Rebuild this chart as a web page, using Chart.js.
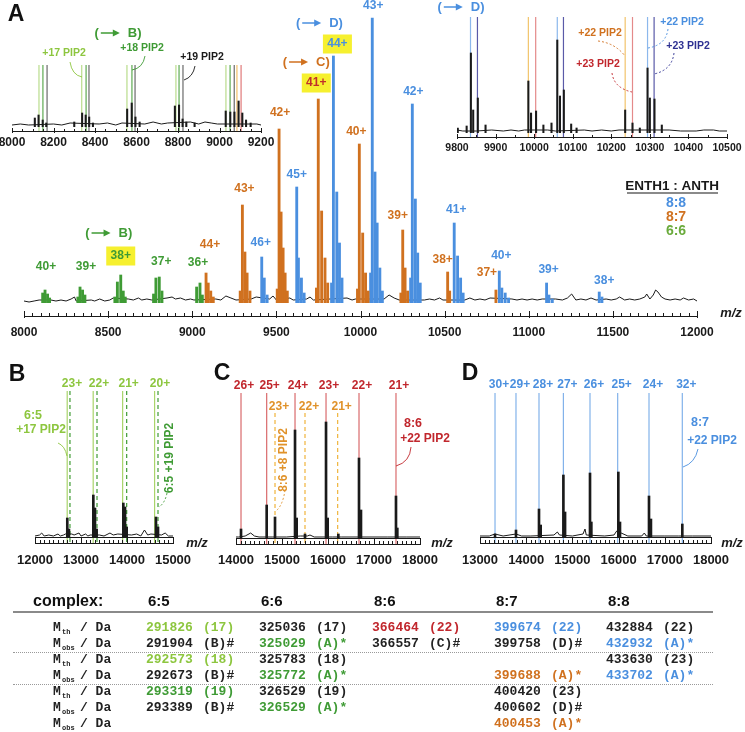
<!DOCTYPE html>
<html>
<head>
<meta charset="utf-8">
<script src="https://cdn.jsdelivr.net/npm/chart.js@4.4.1/dist/chart.umd.min.js"></script>
<style>
  body { margin: 0; background: #fff; }
  #wrap { position: relative; width: 745px; height: 732px; overflow: hidden; }
  #wrap canvas { position: absolute; left: 0; top: 0; }
  .t { position: absolute; white-space: pre; font: bold 13px "Liberation Mono", monospace; line-height: 16px; color: #222; }
  .h { position: absolute; white-space: pre; font: bold 16px "Liberation Sans", Arial, sans-serif; line-height: 20px; color: #111; }
</style>
</head>
<body>
<div id="wrap">
  <canvas id="cA" width="745" height="732"></canvas>
  <canvas id="cI1" width="745" height="732"></canvas>
  <canvas id="cI2" width="745" height="732"></canvas>
  <canvas id="cB" width="745" height="732"></canvas>
  <canvas id="cC" width="745" height="732"></canvas>
  <canvas id="cD" width="745" height="732"></canvas>
</div>
<script>
// ---------- data: panel A overview (m/z, intensity) ----------
const ticksA = [8000, 8500, 9000, 9500, 10000, 10500, 11000, 11500, 12000];
const noiseA = [[8000,2],[8030,1],[8060,2],[8090,3],[8160,3],[8190,2],[8220,3],[8250,2],[8280,4],[8300,6],[8310,2],
  [8400,3],[8420,2],[8450,4],[8480,2],[8510,3],[8530,5],[8620,4],[8650,3],[8680,5],[8700,3],[8730,4],[8760,3],
  [8850,5],[8880,6],[8900,4],[8930,5],[8960,3],[8990,4],[9010,3],[9140,4],[9170,3],[9200,7],[9230,5],[9260,3],
  [9350,4],[9380,6],[9460,4],[9480,7],[9500,3],[9580,5],[9600,3],[9680,4],[9700,6],[9720,3],[9820,4],[9920,5],
  [9950,3],[9970,4],[10140,4],[10170,8],[10200,5],[10230,3],[10380,3],[10410,4],[10440,3],[10470,5],[10490,3],
  [10620,3],[10650,5],[10680,3],[10710,4],[10740,3],[10770,5],[10900,4],[10930,3],[10960,4],[10990,3],[11020,4],
  [11050,3],[11080,4],[11160,4],[11200,3],[11230,5],[11255,9],[11280,3],[11310,4],[11340,3],[11370,5],[11400,3],
  [11460,4],[11490,3],[11520,4],[11540,6],[11570,3],[11600,4],[11630,3],[11660,4],[11690,6],[11701,9],[11720,4],
  [11740,8],[11754,13],[11768,11],[11789,6],[11810,4],[11840,3],[11870,4],[11900,3],[11920,5],[11950,3],[11980,4],[12000,2]];
const peaks66 = [[8111,10],[8125,13],[8140,9],[8152,5],[8320,6],[8333,16],[8348,13],[8362,8],
  [8540,6],[8555,21],[8575,28],[8590,12],[8602,6],[8770,9],[8784,25],[8804,26],[8820,12],[9026,16],[9046,20],[9060,8]];
const peaks87 = [[9082,30],[9095,20],[9110,12],[9125,6],[9285,12],[9298,98],[9313,51],[9326,30],[9343,12],
  [9505,14],[9516,174],[9528,91],[9540,55],[9552,30],[9565,12],[9738,15],[9749,204],[9769,92],[9789,45],[9805,20],
  [9982,14],[9993,159],[10013,70],[10030,30],[10045,12],[10240,10],[10251,73],[10265,35],[10280,12],
  [10518,31],[10530,12],[10805,13]];
const peaks88 = [[9413,46],[9428,25],[9445,8],[9621,116],[9631,45],[9649,25],[9665,10],
  [9828,20],[9839,247],[9859,111],[9875,60],[9890,25],[10060,30],[10070,285],[10086,131],[10099,80],[10115,35],[10130,12],
  [10298,25],[10308,199],[10326,104],[10340,50],[10355,20],[10557,80],[10577,47],[10595,25],[10610,10],
  [10825,32],[10840,15],[10860,10],[10880,5],[11106,20],[11120,8],[11140,4],[11419,11],[11435,6]];
const charges66 = ['40+', '39+', '38+', '37+', '36+'];
const apexMz66 = [8125, 8333, 8575, 8804, 9046];
const apexH66 = [13, 16, 28, 26, 20];
const charges87 = ['44+', '43+', '42+', '41+', '40+', '39+', '38+', '37+'];
const apexMz87 = [9082, 9298, 9516, 9749, 9993, 10251, 10518, 10805];
const apexH87 = [30, 98, 174, 204, 159, 73, 31, 13];
const charges88 = ['46+', '45+', '44+', '43+', '42+', '41+', '40+', '39+', '38+'];
const apexMz88 = [9413, 9621, 9839, 10070, 10308, 10557, 10825, 11106, 11419];
const apexH88 = [46, 116, 247, 285, 199, 80, 32, 20, 11];

// ---------- data: inset 8000-9200 ----------
const ticksI1 = [8000, 8200, 8400, 8600, 8800, 9000, 9200];
const noiseI1 = [[8000,2],[8040,3],[8080,2],[8200,3],[8240,2],[8280,4],[8420,3],[8460,4],[8500,2],[8530,4],
  [8640,3],[8680,5],[8720,3],[8750,4],[8860,5],[8900,3],[8930,5],[8960,4],[8990,3],[9180,3],[9200,2]];
const peaksI1 = [[8110,9],[8128,12],[8148,7],[8165,4],[8300,5],[8338,14],[8355,12],[8372,10],[8390,4],
  [8555,18],[8577,24],[8595,10],[8615,5],[8785,21],[8805,22],[8822,8],[8840,5],[8880,4],
  [9030,16],[9052,15],[9072,15],[9092,26],[9110,14],[9128,7],[9150,4]];
const pip17I1 = [8130, 8336, 8554, 8790, 9031];
const pip18I1 = [8149, 8357, 8578, 8805, 9051];
const pip19I1 = [8169, 8371, 8593, 8824, 9071];
const orangeI1 = [9084];
const redI1 = [9104];

// ---------- data: inset 9800-10500 ----------
const ticksI2 = [9800, 9900, 10000, 10100, 10200, 10300, 10400, 10500];
const noiseI2 = [[9800,3],[9815,2],[9850,2],[9890,3],[9920,2],[9940,3],[9960,2],[9975,3],[10000,3],[10035,3],
  [10055,2],[10130,3],[10150,2],[10175,3],[10200,2],[10220,3],[10285,3],[10350,3],[10380,2],[10420,2],
  [10440,3],[10465,3],[10480,2],[10500,2]];
const peaksI2 = [[9802,5],[9825,7],[9836,80],[9842,23],[9854,35],[9874,8],[9985,52],[9992,20],[10005,22],
  [10024,8],[10045,10],[10060,93],[10067,37],[10077,43],[10096,9],[10110,5],[10236,23],[10255,10],[10274,5],
  [10294,65],[10300,35],[10312,34],[10331,8]];
const blue22I2 = [9835, 10060, 10294];
const navy23I2 = [9853, 10076, 10311];
const orange22I2 = [9985, 10236];
const red23I2 = [10004, 10255];

// ---------- data: panels B, C, D ----------
const ticksB = [12000, 13000, 14000, 15000];
const noiseB = [[12000,1],[12100,2],[12145,4],[12200,1],[12300,2],[12400,1],[12500,3],[12550,1],[12620,2],[12660,3],
  [12800,3],[12850,2],[12957,4],[13000,1],[13100,3],[13150,1],[13200,2],[13400,2],[13500,1],[13630,4],[13700,2],
  [13800,3],[14100,2],[14210,3],[14300,1],[14380,7],[14450,2],[14520,3],[14750,2],[14830,4],[14900,1],[15000,1]];
const peaksB = [[12702,19],[12738,8],[13268,42],[13304,29],[13340,8],[13920,34],[13957,30],[13993,10],[14630,20],[14674,10]];
const pip17B = [12700, 13265, 13905, 14600];
const pip19B = [12760, 13348, 13993, 14674];
const chargesB = ['23+', '22+', '21+', '20+'];

const ticksC = [14000, 15000, 16000, 17000, 18000];
const noiseC = [[14000,1],[14060,1],[14200,2],[14319,5],[14400,2],[14500,1],[14800,1],[15100,1],[15400,2],[15550,2],
  [15609,3],[15700,1],[16100,1],[16300,1],[16500,1],[17000,1],[17300,1],[17700,1],[18000,1]];
const peaksC = [[14109,9],[14667,33],[14848,21],[15283,108],[15319,20],[15500,4],[15957,116],[15993,20],[16225,4],
  [16674,80],[16717,28],[17478,42],[17507,10]];
const pip22C = [14109, 14667, 15283, 15957, 16674, 17478];
const chargesC = ['26+', '25+', '24+', '23+', '22+', '21+'];
const pip8C = [14848, 15500, 16210];
const charges8C = ['23+', '22+', '21+'];

const ticksD = [13000, 14000, 15000, 16000, 17000, 18000];
const noiseD = [[13000,1],[13200,1],[13325,3],[13500,1],[13779,3],[13900,1],[14100,1],[14600,2],[14675,5],[14720,2],
  [15000,1],[15230,3],[15273,8],[15300,2],[15700,1],[15900,2],[15959,6],[16200,1],[16500,1],[16557,4],[16600,1],
  [17000,1],[17300,1],[17600,1],[18000,1]];
const peaksD = [[13325,3],[13779,7],[14277,28],[14313,12],[14805,62],[14841,25],[15381,64],[15410,15],
  [15994,65],[16030,15],[16658,41],[16700,18],[17379,13]];
const pip22D = [13325, 13779, 14277, 14805, 15381, 15980, 16658, 17379];
const chargesD = ['30+', '29+', '28+', '27+', '26+', '25+', '24+', '32+'];

// ---------- data: mass table ----------
const complexes = ['6:5', '6:6', '8:6', '8:7', '8:8'];
const rowKinds = ['th', 'obs', 'th', 'obs', 'th', 'obs', 'obs'];
const col65 = [['291826','(17)','lg'],['291904','(B)#','k'],['292573','(18)','lg'],['292673','(B)#','k'],['293319','(19)','g'],['293389','(B)#','k'],null];
const col66 = [['325036','(17)','k'],['325029','(A)*','g'],['325783','(18)','k'],['325772','(A)*','g'],['326529','(19)','k'],['326529','(A)*','g'],null];
const col86 = [['366464','(22)','r'],['366557','(C)#','k'],null,null,null,null,null];
const col87 = [['399674','(22)','b'],['399758','(D)#','k'],null,['399688','(A)*','o'],['400420','(23)','k'],['400602','(D)#','k'],['400453','(A)*','o']];
const col88 = [['432884','(22)','k'],['432932','(A)*','b'],['433630','(23)','k'],['433702','(A)*','b'],null,null,null];

// ---------- styling ----------
const W = 745, H = 732;
const FONT = '"Liberation Sans", Arial, sans-serif';
const f = (size, style) => `${style || 'bold'} ${size}px ${FONT}`;
const C = {
  green: '#3f9b35', lgreen: '#8dc63f', orange: '#d0711f', blue: '#4a8fdf', red: '#c1272d',
  navy: '#2e3192', yellow: '#f6f02f', ink: '#1a1a1a'
};
Chart.defaults.font.family = FONT;

const toXY = arr => arr.map(([x, y]) => ({ x, y }));
const noiseSet = pts => ({ type: 'line', data: toXY(pts), borderColor: C.ink, borderWidth: 1, pointRadius: 0, order: 2 });
const stickSet = (pts, color, w) => ({ type: 'bar', data: toXY(pts), backgroundColor: color, barThickness: w, grouped: false, order: 1 });

function makeChart(id, box, xMin, xMax, yMax, datasets, under, over) {
  return new Chart(document.getElementById(id), {
    type: 'bar',
    data: { datasets },
    options: {
      responsive: false, animation: false, events: [],
      layout: { padding: { left: box[0], top: box[1], right: W - box[2], bottom: H - box[3] } },
      plugins: { legend: { display: false }, tooltip: { enabled: false } },
      scales: {
        x: { type: 'linear', min: xMin, max: xMax, display: false, offset: false },
        y: { min: 0, max: yMax, display: false }
      }
    },
    plugins: [{
      id: 'decor',
      beforeDatasetsDraw: chart => under && under(chart.ctx, chart),
      afterDraw: chart => over(chart.ctx, chart)
    }]
  });
}

function text(ctx, s, x, y, color, font, align, rot) {
  ctx.save();
  ctx.translate(x, y);
  if (rot) ctx.rotate(rot);
  ctx.font = font; ctx.fillStyle = color;
  ctx.textAlign = align || 'center'; ctx.textBaseline = 'middle';
  ctx.fillText(s, 0, 0);
  ctx.restore();
}

function lineRuler(ctx, chart, o) {
  const xs = chart.scales.x, a = chart.chartArea;
  ctx.save();
  ctx.strokeStyle = C.ink; ctx.lineWidth = 1;
  ctx.beginPath();
  ctx.moveTo(a.left, o.y + 0.5); ctx.lineTo(a.right, o.y + 0.5);
  for (let v = xs.min; v <= xs.max + 1e-6; v += o.minor) {
    const px = Math.round(xs.getPixelForValue(v)) + 0.5;
    const major = o.ticks.includes(v);
    ctx.moveTo(px, o.y - (major ? o.up : o.minUp));
    ctx.lineTo(px, o.y + (major ? o.down : 0));
  }
  ctx.stroke();
  ctx.restore();
  o.ticks.forEach(v => text(ctx, String(v), xs.getPixelForValue(v), o.labelY, C.ink, o.font));
}

function boxRuler(ctx, chart, o) {
  const xs = chart.scales.x, a = chart.chartArea;
  ctx.save();
  ctx.strokeStyle = C.ink; ctx.lineWidth = 1;
  ctx.strokeRect(a.left + 0.5, o.y + 0.5, a.right - a.left, o.h);
  ctx.beginPath();
  for (let v = xs.min; v <= xs.max + 1e-6; v += o.minor) {
    const px = Math.round(xs.getPixelForValue(v)) + 0.5;
    const major = o.ticks.includes(v);
    ctx.moveTo(px, o.y + o.h + 0.5);
    ctx.lineTo(px, major ? o.y : o.y + o.h - 3);
  }
  ctx.stroke();
  ctx.restore();
  o.ticks.forEach(v => text(ctx, String(v), xs.getPixelForValue(v), o.labelY, C.ink, f(13)));
}

function vlines(ctx, chart, vals, color, top, bottom, dash, width) {
  const xs = chart.scales.x;
  ctx.save();
  ctx.strokeStyle = color; ctx.lineWidth = width || 1.2;
  if (dash) ctx.setLineDash(dash);
  vals.forEach(v => {
    const px = xs.getPixelForValue(v);
    ctx.beginPath(); ctx.moveTo(px, top); ctx.lineTo(px, bottom); ctx.stroke();
  });
  ctx.restore();
}

function leader(ctx, p, color, dash) {
  ctx.save();
  ctx.strokeStyle = color; ctx.lineWidth = 0.9;
  if (dash) ctx.setLineDash(dash);
  ctx.beginPath(); ctx.moveTo(p[0], p[1]); ctx.quadraticCurveTo(p[2], p[3], p[4], p[5]); ctx.stroke();
  ctx.restore();
}

function arrowTag(ctx, cx, cy, letter, color, size) {
  ctx.save();
  ctx.font = f(size); ctx.fillStyle = color; ctx.strokeStyle = color;
  ctx.textBaseline = 'middle'; ctx.textAlign = 'left';
  const a = ctx.measureText('(').width, b = ctx.measureText(letter + ')').width, arrow = 19, gap = 8;
  let x = cx - (a + 2 + arrow + gap + b) / 2;
  ctx.fillText('(', x, cy);
  x += a + 2;
  ctx.lineWidth = 1.5;
  ctx.beginPath(); ctx.moveTo(x, cy); ctx.lineTo(x + arrow - 5, cy); ctx.stroke();
  ctx.beginPath(); ctx.moveTo(x + arrow, cy); ctx.lineTo(x + arrow - 7, cy - 3.5); ctx.lineTo(x + arrow - 7, cy + 3.5); ctx.closePath(); ctx.fill();
  ctx.fillText(letter + ')', x + arrow + gap, cy);
  ctx.restore();
}

// ---------- panel A ----------
const labelSetsA = [
  { mz: apexMz66, h: apexH66, tag: charges66, color: C.green, dx: [1, 6, 0, 2, -2], dy: [-23, -20, -19, -15, -20],
    hi: 2, hiColor: C.green, arrow: 'B', ax: -12, ay: -23 },
  { mz: apexMz87, h: apexH87, tag: charges87, color: C.orange, dx: [4, 2, 1, -2, -3, -5, -5, -9], dy: [-28, -16, -16, -16, -12, -14, -12, -17],
    hi: 3, hiColor: '#c0302a', arrow: 'C', ax: -10, ay: -21 },
  { mz: apexMz88, h: apexH88, tag: charges88, color: C.blue, dx: [-1, 0, 4, 1, 1, 2, 2, 2, 5], dy: [-14, -12, -12, -12, -12, -13, -15, -13, -11],
    hi: 2, hiColor: C.blue, arrow: 'D', ax: -18, ay: -21 }
];

makeChart('cA', [24, 0, 697, 303], 8000, 12000, 303,
  [noiseSet(noiseA), stickSet(peaks66, C.green, 2.2), stickSet(peaks87, C.orange, 2.2), stickSet(peaks88, C.blue, 2.2)],
  null,
  (ctx, chart) => {
    const X = v => chart.scales.x.getPixelForValue(v), Y = v => chart.scales.y.getPixelForValue(v);
    lineRuler(ctx, chart, { y: 316, minor: 50, ticks: ticksA, up: 5, down: 2, minUp: 3, labelY: 333, font: f(12) });
    labelSetsA.forEach(s => s.tag.forEach((t, i) => {
      const x = X(s.mz[i]) + s.dx[i], y = Y(s.h[i]) + s.dy[i];
      if (i === s.hi) {
        ctx.fillStyle = C.yellow;
        ctx.fillRect(x - 14.5, y - 9.5, 29, 19);
        arrowTag(ctx, x + s.ax, y + s.ay, s.arrow, s.color, 13);
      }
      text(ctx, t, x, y, i === s.hi ? s.hiColor : s.color, f(12));
    }));
    text(ctx, 'ENTH1 : ANTH', 672, 186, C.ink, f(13.5));
    ctx.fillStyle = '#8a8a8a'; ctx.fillRect(627, 192, 91, 2);
    text(ctx, '8:8', 676, 203, C.blue, f(14));
    text(ctx, '8:7', 676, 217, C.orange, f(14));
    text(ctx, '6:6', 676, 231, '#6aab3c', f(14));
    text(ctx, 'm/z', 731, 313, C.ink, f(13, 'italic bold'));
    text(ctx, 'A', 16, 15, '#111', f(23));
  });

// ---------- inset 8000-9200 ----------
makeChart('cI1', [12, 27, 261, 127], 8000, 9200, 100,
  [noiseSet(noiseI1), stickSet(peaksI1, C.ink, 1.4)],
  (ctx, chart) => {
    vlines(ctx, chart, pip17I1, '#b9dc8c', 65, 131);
    vlines(ctx, chart, pip18I1, '#5eaa52', 65, 131);
    vlines(ctx, chart, pip19I1, '#6a6a6a', 65, 131);
    vlines(ctx, chart, orangeI1, '#f2c06a', 65, 131);
    vlines(ctx, chart, redI1, '#e07a7a', 65, 131);
  },
  (ctx, chart) => {
    lineRuler(ctx, chart, { y: 131, minor: 50, ticks: ticksI1, up: 3, down: 2, minUp: 2, labelY: 143, font: f(12) });
    arrowTag(ctx, 118, 33, 'B', C.green, 13);
    text(ctx, '+17 PIP2', 64, 53, C.lgreen, f(10.5));
    text(ctx, '+18 PIP2', 142, 48, C.green, f(10.5));
    text(ctx, '+19 PIP2', 202, 57, C.ink, f(10.5));
    leader(ctx, [70, 62, 72, 75, 82, 77], C.lgreen);
    leader(ctx, [145, 56, 143, 68, 132, 70], C.green);
    leader(ctx, [195, 66, 193, 77, 184, 80], C.ink);
  });

// ---------- inset 9800-10500 ----------
makeChart('cI2', [457, 13, 727, 133], 9800, 10500, 120,
  [noiseSet(noiseI2), stickSet(peaksI2, C.ink, 1.4)],
  (ctx, chart) => {
    vlines(ctx, chart, blue22I2, '#8cb8ec', 17, 138);
    vlines(ctx, chart, navy23I2, '#5a5aa8', 17, 138);
    vlines(ctx, chart, orange22I2, '#f2c46b', 17, 138);
    vlines(ctx, chart, red23I2, '#e48a8a', 17, 138);
  },
  (ctx, chart) => {
    lineRuler(ctx, chart, { y: 137, minor: 50, ticks: ticksI2, up: 3, down: 2, minUp: 2, labelY: 148, font: f(10.5) });
    arrowTag(ctx, 461, 7, 'D', C.blue, 13);
    text(ctx, '+22 PIP2', 600, 33, C.orange, f(10.5));
    text(ctx, '+23 PIP2', 598, 64, C.red, f(10.5));
    text(ctx, '+22 PIP2', 682, 22, C.blue, f(10.5));
    text(ctx, '+23 PIP2', 688, 46, C.navy, f(10.5));
    leader(ctx, [598, 41, 615, 43, 625, 56], C.orange, [2, 2]);
    leader(ctx, [612, 73, 614, 88, 632, 92], C.red, [2, 2]);
    leader(ctx, [668, 29, 666, 45, 648, 48], C.blue, [2, 2]);
    leader(ctx, [674, 53, 672, 70, 654, 74], C.navy, [2, 2]);
  });

// ---------- panel B ----------
makeChart('cB', [35, 380, 173, 537], 12000, 15000, 157,
  [noiseSet(noiseB), stickSet(peaksB, C.ink, 2)],
  (ctx, chart) => {
    vlines(ctx, chart, pip17B, '#a9d46a', 391, 543);
    vlines(ctx, chart, pip19B, C.green, 391, 543, [4, 3]);
  },
  (ctx, chart) => {
    const X = v => chart.scales.x.getPixelForValue(v);
    boxRuler(ctx, chart, { y: 537, h: 6, minor: 100, ticks: ticksB, labelY: 560 });
    chargesB.forEach((t, i) => text(ctx, t, X(pip19B[i]) + 2, 384, C.lgreen, f(12)));
    text(ctx, '6:5', 33, 416, C.lgreen, f(12.5));
    text(ctx, '+17 PIP2', 41, 430, C.lgreen, f(12));
    leader(ctx, [58, 443, 65, 446, 67, 456], C.lgreen);
    text(ctx, '6:5 +19 PIP2', 170, 458, C.green, f(12), 'center', -Math.PI / 2);
    leader(ctx, [167, 493, 165, 503, 159, 507], C.green, [2, 2]);
    text(ctx, 'm/z', 197, 543, C.ink, f(13, 'italic bold'));
    text(ctx, 'B', 17, 375, '#111', f(23));
  });

// ---------- panel C ----------
makeChart('cC', [236, 380, 420, 538], 14000, 18000, 158,
  [noiseSet(noiseC), stickSet(peaksC, C.ink, 2)],
  (ctx, chart) => {
    vlines(ctx, chart, pip22C, '#d96a6c', 393, 544);
    vlines(ctx, chart, pip8C, '#f0b43c', 413, 544, [4, 3]);
  },
  (ctx, chart) => {
    const X = v => chart.scales.x.getPixelForValue(v);
    boxRuler(ctx, chart, { y: 538, h: 6, minor: 100, ticks: ticksC, labelY: 560 });
    chargesC.forEach((t, i) => text(ctx, t, X(pip22C[i]) + 3, 386, C.red, f(12)));
    charges8C.forEach((t, i) => text(ctx, t, X(pip8C[i]) + 4, 407, '#e0922a', f(12)));
    text(ctx, '8:6', 413, 424, C.red, f(12.5));
    text(ctx, '+22 PIP2', 425, 439, C.red, f(12));
    leader(ctx, [411, 447, 410, 462, 396, 466], C.red);
    text(ctx, '8:6 +8 PIP2', 284, 460, '#e0922a', f(12), 'center', -Math.PI / 2);
    leader(ctx, [285, 490, 283, 505, 276, 511], '#e0922a', [2, 2]);
    text(ctx, 'm/z', 442, 543, C.ink, f(13, 'italic bold'));
    text(ctx, 'C', 222, 374, '#111', f(23));
  });

// ---------- panel D ----------
makeChart('cD', [480, 380, 711, 537], 13000, 18000, 157,
  [noiseSet(noiseD), stickSet(peaksD, C.ink, 2)],
  (ctx, chart) => {
    vlines(ctx, chart, pip22D, '#82b2ea', 393, 543);
  },
  (ctx, chart) => {
    const X = v => chart.scales.x.getPixelForValue(v);
    boxRuler(ctx, chart, { y: 537, h: 6, minor: 100, ticks: ticksD, labelY: 560 });
    chargesD.forEach((t, i) => text(ctx, t, X(pip22D[i]) + 4, 385, C.blue, f(12)));
    text(ctx, '8:7', 700, 423, C.blue, f(12.5));
    text(ctx, '+22 PIP2', 712, 441, C.blue, f(12));
    leader(ctx, [698, 449, 695, 463, 683, 467], C.blue);
    text(ctx, 'm/z', 732, 543, C.ink, f(13, 'italic bold'));
    text(ctx, 'D', 470, 374, '#111', f(23));
  });

// ---------- table ----------
const wrap = document.getElementById('wrap');
const colX = [146, 259, 372, 494, 606];
const rowY = [628, 644, 660, 676, 692, 708, 724];
const tone = { lg: C.lgreen, g: C.green, r: C.red, b: C.blue, o: C.orange, k: '#222' };

function put(cls, s, x, y, color, extra) {
  const el = document.createElement('div');
  el.className = cls;
  el.textContent = s;
  el.style.left = x + 'px';
  el.style.top = y + 'px';
  if (color) el.style.color = color;
  if (extra) Object.assign(el.style, extra);
  wrap.appendChild(el);
}
function rule(y, style) {
  const el = document.createElement('div');
  Object.assign(el.style, { position: 'absolute', left: '13px', width: '700px', top: y + 'px', height: '0' }, style);
  wrap.appendChild(el);
}

put('h', 'complex:', 33, 591);
complexes.forEach((c, i) => put('h', c, colX[i] + 2, 591, null, { fontSize: '15px' }));
rule(611, { borderTop: '2px solid #8a8a8a' });
rule(652, { borderTop: '1px dotted #9a9a9a' });
rule(684, { borderTop: '1px dotted #9a9a9a' });

rowKinds.forEach((k, r) => {
  const y = rowY[r] - 8;
  put('t', 'M', 53, y);
  put('t', k, 62, y + 4, null, { fontSize: '7px' });
  put('t', '/ Da', 80, y);
});
[col65, col66, col86, col87, col88].forEach((col, c) => col.forEach((cell, r) => {
  if (!cell) return;
  put('t', cell[0], colX[c], rowY[r] - 8, tone[cell[2]]);
  put('t', cell[1], colX[c] + 57, rowY[r] - 8, tone[cell[2]]);
}));
</script>
</body>
</html>
